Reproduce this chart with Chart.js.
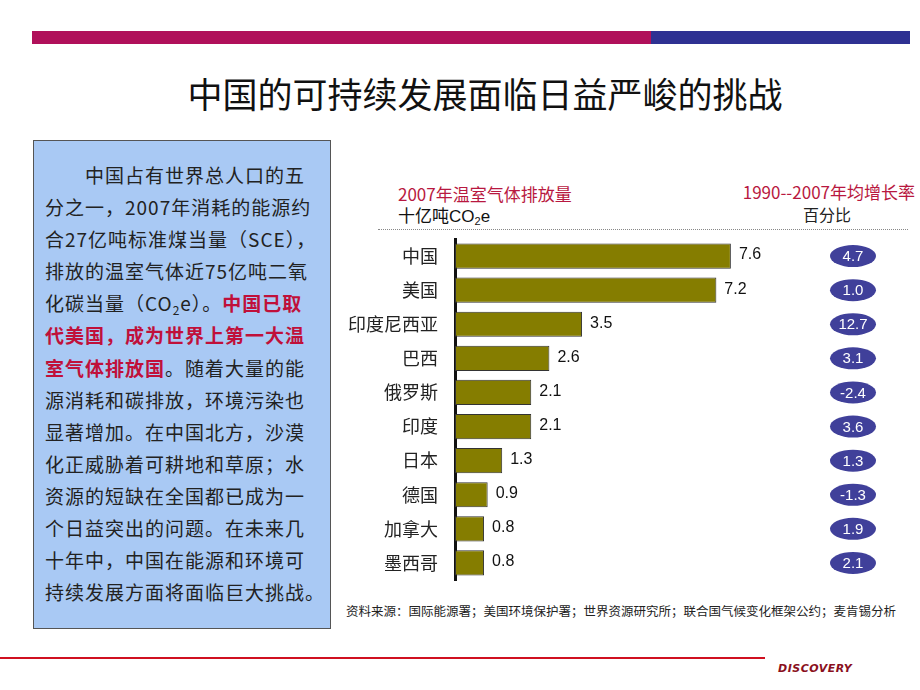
<!DOCTYPE html>
<html>
<head>
<meta charset="utf-8">
<script src="https://cdn.jsdelivr.net/npm/chart.js@4.4.1/dist/chart.umd.min.js"></script>
<style>
  body { margin: 0; width: 920px; height: 690px; background: #fff; position: relative; overflow: hidden;
         font-family: "Noto Sans CJK SC", sans-serif; }
  .abs { position: absolute; white-space: nowrap; }
  sub { line-height: 0; vertical-align: -0.3em; }
  #barA { left: 32px; top: 31px; width: 619px; height: 13px; background: #B0105A; }
  #barB { left: 651px; top: 31px; width: 259px; height: 13px; background: #2E3192; }
  #title { left: 0; width: 970px; top: 68px; text-align: center; font-size: 35px; color: #111; line-height: 50px; }
  #box { left: 33px; top: 140px; width: 296px; height: 487px; background: #A9C9F4; border: 1px solid #555; }
  #boxText { left: 45px; top: 159px; font-size: 19px; line-height: 32.1px; color: #222; letter-spacing: 1px; }
  #boxText div { height: 32.1px; }
  .red { color: #C0103A; font-weight: bold; }
  .hdr { font-size: 17px; line-height: 20px; }
  #src { left: 346px; top: 601px; font-size: 12.5px; letter-spacing: 0; color: #222; }
  #bottomLine { left: 0; top: 657px; width: 765px; height: 2px; background: #D01020; }
  #logo { left: 778px; top: 662px; font: bold italic 11px "DejaVu Sans", sans-serif; color: #8a1020; letter-spacing: 0.5px; }
  #dots { left: 378px; top: 229px; width: 530px; border-top: 1px dotted #888; }
  #chartWrap { position: absolute; left: 340px; top: 230px; width: 580px; height: 365px; }
  canvas { display: block; }
</style>
</head>
<body>
<div id="barA" class="abs"></div>
<div id="barB" class="abs"></div>
<div id="title" class="abs">中国的可持续发展面临日益严峻的挑战</div>

<div id="box" class="abs"></div>
<div id="boxText" class="abs">
  <div>　　中国占有世界总人口的五</div>
  <div>分之一，2007年消耗的能源约</div>
  <div>合27亿吨标准煤当量（SCE），</div>
  <div>排放的温室气体近75亿吨二氧</div>
  <div>化碳当量（CO<sub style="font-size:12px">2</sub>e）。<span class="red">中国已取</span></div>
  <div><span class="red">代美国，成为世界上第一大温</span></div>
  <div><span class="red">室气体排放国</span>。随着大量的能</div>
  <div>源消耗和碳排放，环境污染也</div>
  <div>显著增加。在中国北方，沙漠</div>
  <div>化正威胁着可耕地和草原；水</div>
  <div>资源的短缺在全国都已成为一</div>
  <div>个日益突出的问题。在未来几</div>
  <div>十年中，中国在能源和环境可</div>
  <div>持续发展方面将面临巨大挑战。</div>
</div>

<div class="abs hdr" style="left:398px; top:184px; color:#B81840;">2007年温室气体排放量</div>
<div class="abs hdr" style="left:398px; top:205px; color:#111;">十亿吨<span style="font-family:'Liberation Sans',Arial,sans-serif;">CO<sub style="font-size:11px">2</sub>e</span></div>
<div class="abs hdr" style="right:5px; top:182px; color:#B81840;">1990--2007年均增长率</div>
<div class="abs" style="left:803px; top:205px; font-size:16px; line-height:18px; color:#222;">百分比</div>
<div id="dots" class="abs"></div>

<div id="chartWrap"><canvas id="grafico" width="580" height="365"></canvas></div>

<div id="src" class="abs">资料来源：国际能源署；美国环境保护署；世界资源研究所；联合国气候变化框架公约；麦肯锡分析</div>
<div id="bottomLine" class="abs"></div>
<div id="logo" class="abs">DISCOVERY</div>

<script>
const paises = ['中国', '美国', '印度尼西亚', '巴西', '俄罗斯', '印度', '日本', '德国', '加拿大', '墨西哥'];
const emissoes = [7.6, 7.2, 3.5, 2.6, 2.1, 2.1, 1.3, 0.9, 0.8, 0.8];
const crescimento = ['4.7', '1.0', '12.7', '3.1', '-2.4', '3.6', '1.3', '-1.3', '1.9', '2.1'];

// rótulos de valor no fim de cada barra
const rotulosBarras = {
  id: 'rotulosBarras',
  afterDatasetsDraw(chart) {
    const ctx = chart.ctx;
    const meta = chart.getDatasetMeta(0);
    ctx.save();
    ctx.font = '16px "Liberation Sans", Arial, sans-serif';
    ctx.fillStyle = '#111';
    ctx.textBaseline = 'middle';
    meta.data.forEach((bar, i) => {
      ctx.fillText(emissoes[i].toFixed(1), bar.x + 8, bar.y - 1);
    });
    ctx.restore();
  }
};

// elipses azuis com a taxa de crescimento
const elipses = {
  id: 'elipses',
  afterDraw(chart) {
    const ctx = chart.ctx;
    const yScale = chart.scales.y;
    ctx.save();
    crescimento.forEach((v, i) => {
      const y = yScale.getPixelForValue(i);
      ctx.beginPath();
      ctx.ellipse(513, y, 23, 11, 0, 0, Math.PI * 2);
      ctx.fillStyle = '#40409A';
      ctx.fill();
      ctx.font = '15px "Liberation Sans", Arial, sans-serif';
      ctx.fillStyle = '#fff';
      ctx.textAlign = 'center';
      ctx.textBaseline = 'middle';
      ctx.fillText(v, 513, y + 1);
    });
    ctx.restore();
  }
};

new Chart(document.getElementById('grafico'), {
  type: 'bar',
  data: {
    labels: paises,
    datasets: [{
      label: '2007年温室气体排放量',
      data: emissoes,
      backgroundColor: '#857D00',
      borderColor: '#333',
      borderWidth: 1,
      borderSkipped: false,
      categoryPercentage: 1,
      barPercentage: 0.74
    }]
  },
  options: {
    indexAxis: 'y',
    responsive: false,
    animation: false,
    maintainAspectRatio: false,
    layout: { padding: { top: 9, bottom: 15, left: 0, right: 102 } },
    plugins: {
      legend: { display: false },
      tooltip: { enabled: false }
    },
    scales: {
      x: { display: false, min: 0, max: 10 },
      y: {
        grid: { display: false, drawTicks: false },
        border: { display: true, color: '#111', width: 3 },
        ticks: {
          color: '#222',
          padding: 17,
          font: { size: 18, family: '"Noto Sans CJK SC", sans-serif' }
        },
        afterFit(scale) {
          scale.width = 115;
          scale.paddingTop = 0;
          scale.paddingBottom = 0;
        }
      }
    }
  },
  plugins: [rotulosBarras, elipses]
});
</script>
</body>
</html>
